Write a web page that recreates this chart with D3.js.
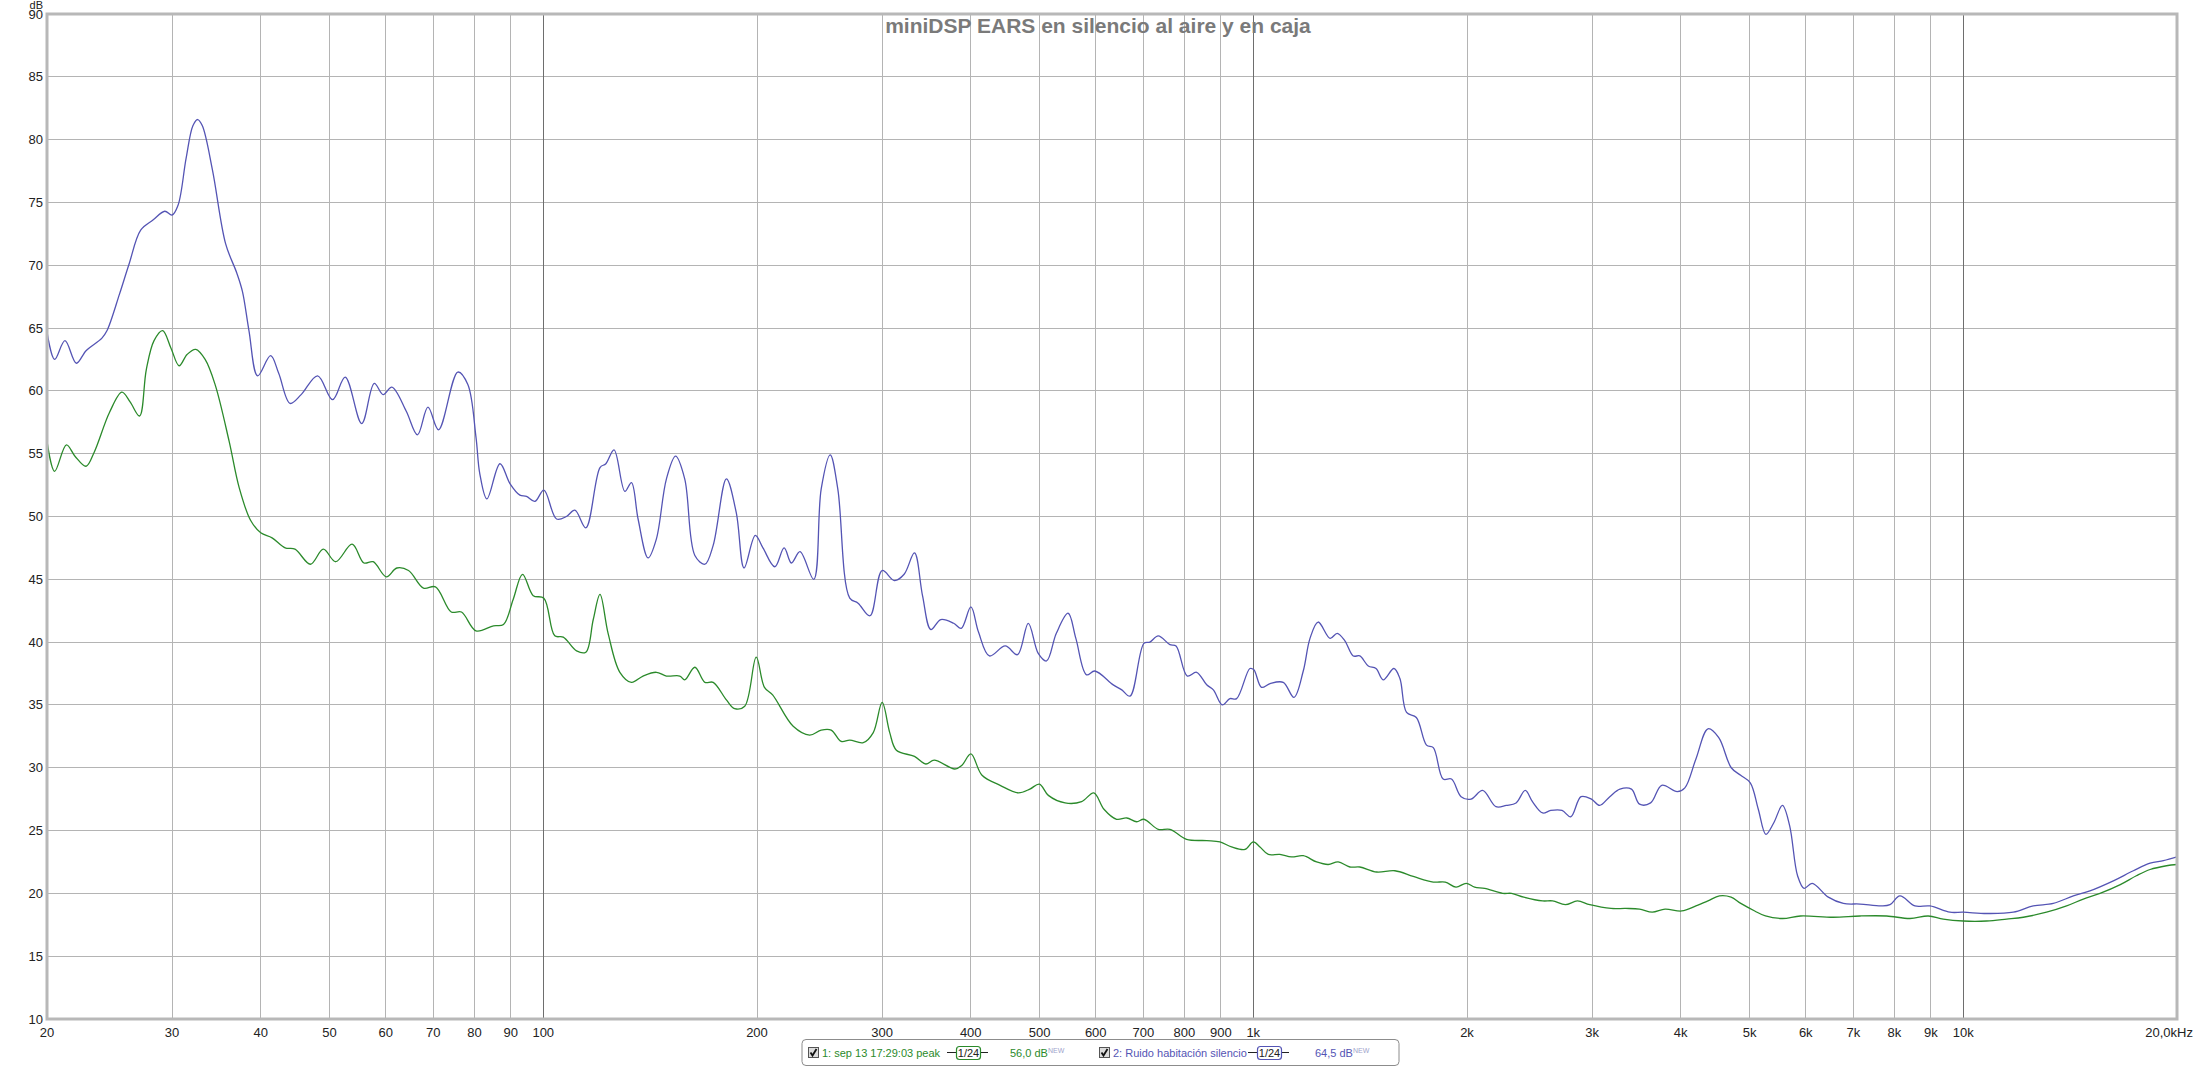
<!DOCTYPE html>
<html>
<head>
<meta charset="utf-8">
<script src="https://cdn.jsdelivr.net/npm/d3@7"></script>
<style>
  body { margin: 0; background: #fff; }
  svg { display: block; font-family: "Liberation Sans", Arial, sans-serif; }
</style>
</head>
<body>
<div id="container"></div>
<script>
const title = "miniDSP EARS en silencio al aire y en caja";

// series 1: green, "sep 13 17:29:03 peak"
const s1Freq = [20, 20.5, 21.3, 21.9, 22.7, 23.3, 24.5, 25.5, 26.2, 27.0, 27.6, 28.3, 29.1, 29.9, 30.7, 31.5, 32.4, 33.4, 34.5, 36.1, 37.3, 38.7, 40.0, 41.5, 43.3, 44.7, 47.0, 49.0, 51.0, 53.8, 55.9, 57.6, 60.1, 62.2, 64.6, 67.8, 70.5, 74.2, 76.7, 80.4,
  85.1, 87.9, 90.7, 93.5, 96.8, 100.2, 103.8, 106.7, 111.4, 114.8, 117.6, 120.2, 123.4, 128.2, 133.1, 138.2, 144.3, 149.1, 155.7, 158.2, 163.5, 168.9, 173.5, 181.1, 186, 192.2, 199.5, 204.9, 210.4, 224.9, 237.2, 246.3, 254.4, 262.8, 270.2, 282.3, 291.6, 300.1, 307.6, 314.3, 333.3, 345.8, 355.3,
  380, 388.8, 400.2, 414.9, 440, 466.5, 484.5, 499.8, 514.5, 543.2, 573.1, 596.2, 616.2, 642, 663.5, 685, 701.4, 734.8, 763.2, 805.5, 859.8, 897.6, 931.8, 973.3, 1000, 1022, 1050, 1090, 1132, 1176, 1228, 1275, 1317, 1368, 1413, 1492, 1583, 1680, 1793,
  1864, 1930, 1995, 2050, 2118, 2246, 2311, 2404, 2556, 2640, 2752, 2861, 2978, 3191, 3347, 3500, 3647, 3802, 4014, 4202, 4370, 4535, 4710, 4860, 5085, 5265, 5567, 5899,
  6560, 7155, 7800, 8415, 8926, 9372, 10000, 10785, 11510, 12150, 13100, 13980, 14760, 15580, 16640, 17530, 18330, 19330, 20000];
const s1Db = [56.0, 53.6, 55.7, 54.8, 54.0, 55.1, 58.3, 59.9, 59.1, 58.0, 61.7, 64.0, 64.8, 63.4, 62.0, 62.9, 63.3, 62.5, 60.5, 56.0, 52.3, 49.7, 48.7, 48.3, 47.5, 47.4, 46.2, 47.4, 46.4, 47.8, 46.3, 46.4, 45.2, 45.9, 45.7, 44.3, 44.4, 42.4, 42.4, 40.9,
  41.3, 41.4, 43.4, 45.4, 43.7, 43.5, 40.5, 40.4, 39.3, 39.2, 41.8, 43.8, 40.7, 37.6, 36.8, 37.3, 37.6, 37.3, 37.3, 37.0, 38.0, 36.8, 36.8, 35.4, 34.7, 34.9, 38.8, 36.4, 35.8, 33.3, 32.6, 33.0, 33.0, 32.1, 32.2, 32.0, 32.8, 35.2, 32.8, 31.4, 30.9, 30.3, 30.6,
  29.9, 30.2, 31.1, 29.4, 28.6, 28.0, 28.3, 28.7, 27.8, 27.2, 27.3, 28.0, 26.7, 25.9, 26.0, 25.7, 25.9, 25.1, 25.1, 24.3, 24.2, 24.1, 23.7, 23.5, 24.1, 23.7, 23.1, 23.1, 22.9, 23.0, 22.5, 22.3, 22.5, 22.1, 22.1, 21.7, 21.8, 21.35, 20.9,
  20.9, 20.5, 20.8, 20.5, 20.4, 20.0, 20.0, 19.7, 19.4, 19.4, 19.1, 19.4, 19.1, 18.8, 18.8, 18.75, 18.5, 18.75, 18.6, 19.0, 19.4, 19.8, 19.7, 19.2, 18.6, 18.2, 18.0, 18.2,
  18.1, 18.2, 18.2, 18.0, 18.2, 17.95, 17.8, 17.8, 17.95, 18.1, 18.5, 19.0, 19.55, 20.0, 20.7, 21.4, 21.9, 22.2, 22.3];

// series 2: blue, "Ruido habitación silencio"
const s2Freq = [20, 20.5, 21.2, 22.0, 22.7, 23.9, 24.3, 25.3, 26.1, 27.1, 28.2, 29.3, 30, 30.6, 31.4, 32.1, 32.6, 33.1, 34.2, 35.7, 37.0, 37.7, 38.5, 39.6, 41.3, 42.4, 44.0, 45.6, 48.1, 50.5, 52.6, 55.5, 57.8, 59.5, 61.2, 64.1, 66.5, 68.8, 71.2, 75.8, 78.3, 80.4,
  81.4, 83.3, 86.9, 89.8, 92.7, 94.7, 97.3, 100.2, 104.4, 107.8, 110.8, 114.8, 120.2, 122.5, 125.8, 130.3, 133.1, 136.0, 140.5, 144.3, 149.1, 153.6, 158.2, 163.5, 168.9, 173.5, 181.1, 187.0, 191.8, 198.9, 203.9, 211.9, 218.4, 223.6, 229.9, 240.4, 246.3, 253.6, 259.9, 270.2, 277.6, 288.5, 300.1, 312.3, 322.3, 333.3, 342.1, 351.5, 363,
  378.5, 387.9, 400.2, 410.2, 425, 447.4, 465.5, 482.1, 497.9, 511.5, 528, 548.6, 562.5, 582.3, 598.2, 635, 652.9, 670.6, 701.4, 715.1, 734.8, 763.2, 778.5, 807.4, 832.1, 859.8, 878.6, 904.4, 927, 947.4, 989.2, 1002, 1027, 1056, 1102, 1141, 1176, 1202, 1234, 1283, 1313, 1346, 1383, 1413, 1452, 1489, 1524, 1578, 1609, 1644, 1697, 1754, 1793,
  1851, 1902, 1962, 2026, 2104, 2197, 2272, 2345, 2416, 2473, 2556, 2624, 2722, 2800, 2895, 2994, 3075, 3178, 3284, 3409, 3500, 3628, 3761, 3955, 4054, 4202, 4370, 4525, 4712, 4858, 5012, 5144, 5272, 5407, 5563, 5694, 5843, 5967, 6126,
  6455, 6778, 7155, 7675, 7885, 8143, 8549, 8977, 9577, 10000, 10785, 11760, 12547, 13390, 14290, 15080, 16270, 17360, 18330, 19140, 20000];
const s2Db = [64.7, 62.5, 64.0, 62.2, 63.2, 64.2, 64.8, 67.7, 70.1, 72.8, 73.6, 74.3, 74.0, 74.8, 78.5, 81.1, 81.6, 81.1, 77.6, 71.7, 69.4, 67.9, 64.8, 61.2, 62.8, 61.4, 59.0, 59.7, 61.2, 59.3, 61.1, 57.4, 60.6, 59.7, 60.3, 58.4, 56.5, 58.7, 56.9, 61.5, 60.5, 56.3,
  53.4, 51.4, 54.2, 52.6, 51.7, 51.6, 51.2, 52.1, 49.8, 50.0, 50.5, 49.1, 53.9, 54.2, 55.3, 52.0, 52.7, 49.8, 46.7, 48.2, 53.0, 54.8, 53.0, 46.9, 46.2, 47.7, 53.0, 50.3, 45.9, 48.5, 47.5, 46.0, 47.5, 46.3, 47.2, 45.0, 52.2, 54.9, 52.2, 43.5, 43.1, 42.1, 45.7, 44.9, 45.4, 47.1, 43.7, 41.0, 41.8,
  41.5, 41.1, 42.8, 40.8, 38.9, 39.7, 39.0, 41.5, 39.1, 38.5, 40.7, 42.3, 40.3, 37.4, 37.7, 36.6, 36.2, 35.7, 39.9, 40.0, 40.5, 39.8, 39.7, 37.3, 37.6, 36.6, 36.2, 35.0, 35.5, 35.5, 37.9, 37.8, 36.4, 36.7, 36.8, 35.6, 37.7, 40.3, 41.6, 40.3, 40.7, 40.1, 38.9, 38.9, 38.1, 37.9, 37.0, 37.9, 37.1, 34.4, 34.0, 31.8, 31.6,
  29.1, 29.1, 27.7, 27.5, 28.2, 26.9, 27.0, 27.2, 28.2, 27.3, 26.4, 26.6, 26.6, 26.1, 27.7, 27.5, 27.0, 27.7, 28.3, 28.3, 27.1, 27.2, 28.6, 28.1, 28.4, 30.7, 33.1, 32.4, 30.0, 29.4, 28.8, 26.7, 24.7, 25.6, 27.0, 25.4, 21.4, 20.4, 20.8,
  19.7, 19.2, 19.15, 19.0, 19.1, 19.8, 19.0, 19.0, 18.5, 18.5, 18.4, 18.5, 19.0, 19.2, 19.8, 20.2, 21.0, 21.8, 22.4, 22.6, 22.9];

const xTicks = [20, 30, 40, 50, 60, 70, 80, 90, 100, 200, 300, 400, 500, 600, 700, 800, 900, 1000, 2000, 3000, 4000, 5000, 6000, 7000, 8000, 9000, 10000, 20000];
const xTickLabels = ["20", "30", "40", "50", "60", "70", "80", "90", "100", "200", "300", "400", "500", "600", "700", "800", "900", "1k", "2k", "3k", "4k", "5k", "6k", "7k", "8k", "9k", "10k", "20,0kHz"];
const yTicks = [10, 15, 20, 25, 30, 35, 40, 45, 50, 55, 60, 65, 70, 75, 80, 85, 90];

const legendNames = ["1: sep 13 17:29:03 peak", "2: Ruido habitación silencio"];
const legendLevels = ["56,0 dB", "64,5 dB"];
const colors = ["#2b8a2b", "#5454b4"];

const width = 2200, height = 1067;
const plotLeft = 47, plotRight = 2177, plotTop = 14, plotBottom = 1019;

const svg = d3.select("#container").append("svg")
    .attr("width", width)
    .attr("height", height)
    .style("background", "#fff");

const x = d3.scaleLog().domain([20, 20000]).range([plotLeft, plotRight]);
const y = d3.scaleLinear().domain([10, 90]).range([plotBottom, plotTop]);

// horizontal grid
svg.append("g").selectAll("line").data(yTicks).join("line")
    .attr("x1", plotLeft).attr("x2", plotRight)
    .attr("y1", d => y(d)).attr("y2", d => y(d))
    .attr("stroke", "#b4b4b4").attr("stroke-width", 1)
    .attr("shape-rendering", "crispEdges");

// vertical grid, decades darker
svg.append("g").selectAll("line").data(xTicks).join("line")
    .attr("x1", d => x(d)).attr("x2", d => x(d))
    .attr("y1", plotTop).attr("y2", plotBottom)
    .attr("stroke", d => [100, 1000, 10000].includes(d) ? "#6e6e6e" : "#b4b4b4")
    .attr("stroke-width", 1)
    .attr("shape-rendering", "crispEdges");

// title
svg.append("text")
    .attr("x", 1098).attr("y", 33)
    .attr("text-anchor", "middle")
    .style("font-size", "21px").style("font-weight", "bold")
    .attr("fill", "#7a7a7a")
    .text(title);

// curves
svg.append("clipPath").attr("id", "plotclip")
    .append("rect")
    .attr("x", plotLeft).attr("y", plotTop)
    .attr("width", plotRight - plotLeft).attr("height", plotBottom - plotTop);

const line = d3.line()
    .x(d => x(d[0]))
    .y(d => y(d[1]))
    .curve(d3.curveCatmullRom.alpha(0.5));

const series = [d3.zip(s1Freq, s1Db), d3.zip(s2Freq, s2Db)];
svg.append("g").attr("clip-path", "url(#plotclip)")
    .selectAll("path").data(series).join("path")
    .attr("d", line)
    .attr("fill", "none")
    .attr("stroke", (d, i) => colors[i])
    .attr("stroke-width", 1.3);

// frame
svg.append("rect")
    .attr("x", plotLeft).attr("y", plotTop)
    .attr("width", plotRight - plotLeft).attr("height", plotBottom - plotTop)
    .attr("fill", "none")
    .attr("stroke", "#b8b8b8").attr("stroke-width", 3);

// y labels
svg.append("g").selectAll("text").data(yTicks).join("text")
    .attr("x", 43).attr("y", d => y(d))
    .attr("dy", "0.35em")
    .attr("text-anchor", "end")
    .style("font-size", "13px")
    .attr("fill", "#222")
    .text(d => d);

svg.append("text")
    .attr("x", 43).attr("y", 9)
    .attr("text-anchor", "end")
    .style("font-size", "11px")
    .attr("fill", "#222")
    .text("dB");

// x labels
svg.append("g").selectAll("text").data(xTicks).join("text")
    .attr("x", (d, i) => i === xTicks.length - 1 ? x(d) + 16 : x(d))
    .attr("y", 1037)
    .attr("text-anchor", (d, i) => i === xTicks.length - 1 ? "end" : "middle")
    .style("font-size", "13px")
    .attr("fill", "#222")
    .text((d, i) => xTickLabels[i]);

// legend
const lg = svg.append("g");
lg.append("rect")
    .attr("x", 802).attr("y", 1039.5)
    .attr("width", 597).attr("height", 26)
    .attr("rx", 4)
    .attr("fill", "#fff")
    .attr("stroke", "#8c8c8c");

const legendX = [808, 1099];
const smoothX = [947, 1248];
const levelX = [1010, 1315];

legendNames.forEach((name, i) => {
    const g = lg.append("g");
    const cx = legendX[i];
    g.append("rect")
        .attr("x", cx + 0.5).attr("y", 1047.5)
        .attr("width", 10).attr("height", 10)
        .attr("fill", "#dcdcdc").attr("stroke", "#555");
    g.append("path")
        .attr("d", `M${cx + 2.5},${1052.5} L${cx + 4.5},${1055.5} L${cx + 8.5},${1049}`)
        .attr("fill", "none").attr("stroke", "#111").attr("stroke-width", 1.8);
    g.append("text")
        .attr("x", cx + 14).attr("y", 1056.5)
        .style("font-size", "11px")
        .attr("fill", colors[i])
        .text(name);

    const sx = smoothX[i];
    g.append("line")
        .attr("x1", sx).attr("x2", sx + 41)
        .attr("y1", 1052.5).attr("y2", 1052.5)
        .attr("stroke", "#222");
    g.append("rect")
        .attr("x", sx + 9.5).attr("y", 1046.5)
        .attr("width", 24).attr("height", 13)
        .attr("rx", 3)
        .attr("fill", "#fff")
        .attr("stroke", colors[i]).attr("stroke-width", 1.2);
    g.append("text")
        .attr("x", sx + 21.5).attr("y", 1056.5)
        .attr("text-anchor", "middle")
        .style("font-size", "11px")
        .attr("fill", "#222")
        .text("1/24");

    const lt = g.append("text")
        .attr("x", levelX[i]).attr("y", 1056.5)
        .style("font-size", "11px")
        .attr("fill", colors[i]);
    lt.append("tspan").text(legendLevels[i]);
    lt.append("tspan")
        .attr("dy", -4)
        .style("font-size", "7px")
        .attr("fill", "#a0a4cc")
        .text("NEW");
});
</script>
</body>
</html>
